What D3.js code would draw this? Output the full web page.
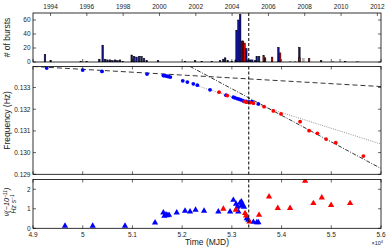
<!DOCTYPE html>
<html><head><meta charset="utf-8">
<script src="https://cdn.jsdelivr.net/npm/d3@7"></script>
<style>body{margin:0;background:#fff}svg{display:block;font-family:"Liberation Sans",Arial,sans-serif}</style>
</head><body><svg id="c" width="390" height="251"></svg>
<script>
// ---------------- DATA ----------------
const mjdDomain = [49000, 56000];
const mjdTicks = [49000, 50000, 51000, 52000, 53000, 54000, 55000, 56000];
const mjdTickLabels = ["4.9", "5", "5.1", "5.2", "5.3", "5.4", "5.5", "5.6"];
const yearTicks = [1994, 1996, 1998, 2000, 2002, 2004, 2006, 2008, 2010, 2012];
const burstTicks = [0, 20, 40, 60];
const freqTicks = [0.129, 0.130, 0.131, 0.132, 0.133];
const freqTickLabels = ["0.129", "0.130", "0.131", "0.132", "0.133"];
const nudotTicks = [0, 1, 2];
const glitchMJD = 53340;

// histogram: [MJD, number of bursts]
const burstsNavy = [[49241,11],[49356,2],[49960,1],[50080,1],[50334,4],[50402,24],[50449,4],[50499,3],[50549,3],[50600,2],[50650,3],[50700,2],[50750,3],[50805,1],[50986,10],[51032,8],[51082,7],[51133,8],[51183,8],[51233,5],[51288,2],[51515,2],[52058,1],[52260,2],[52394,1],[52596,1],[52763,2],[52829,4],[52865,6],[52918,2],[52998,1],[53078,3],[53095,45],[53133,60],[53167,68],[53205,30],[53290,19],[53330,3],[53370,3],[53410,3],[53470,2],[53501,8],[53547,8],[53668,6],[53936,21],[54358,21],[54795,2],[55278,1]];
const burstsRed = [[53225,30],[53255,27],[53640,9],[53809,7],[53970,13],[54358,6],[54553,5]];
const burstsGray = [[54171,1],[54272,1],[54439,5],[55036,1],[55177,4],[55513,1],[55539,1]];

// spin frequency measurements: [MJD, Hz]
const freqBlue = [[49276,0.133898],[50000,0.133806],[50388,0.133741],[51294,0.133620],[51622,0.133556],[51656,0.133542],[51690,0.133528],[51722,0.133509],[51763,0.133481],[52012,0.133310],[52105,0.133250],[52225,0.133171],[52306,0.133111],[52561,0.132894],[52883,0.132648],[53030,0.132556],[53064,0.132523],[53105,0.132491],[53145,0.132463],[53185,0.132431],[53231,0.132384],[53286,0.132361],[53346,0.132338],[53406,0.132352],[53533,0.132245]];
const freqRed = [[52742,0.132787],[52909,0.132630],[53252,0.132352],[53296,0.132324],[53366,0.132306],[53433,0.132278],[53648,0.132120],[53835,0.131921],[53990,0.131782],[54372,0.131426],[54553,0.131009],[54720,0.130889],[54895,0.130625],[55091,0.130454],[55646,0.129838]];

// fitted spin-down trends: [[MJD, Hz],[MJD, Hz]]
const trendEarly = [[49000,0.133972],[56000,0.133046]];
const trendMid = [[52300,0.133084],[56000,0.130394]];
const trendLate = [[52159,0.133972],[56000,0.129269]];

// spin-down rate: [MJD, -nudot in 1e-11 Hz/s]
const nudotBlue = [[49644,0.12],[50201,0.12],[50851,0.12],[51455,0.29],[51622,0.80],[51642,0.63],[51676,0.70],[51702,0.66],[51736,0.68],[51891,0.80],[52058,0.89],[52159,0.85],[52270,0.94],[52441,0.89],[52728,0.85],[52964,0.85],[53030,1.45],[53085,1.25],[53111,1.10],[53131,0.85],[53165,1.30],[53191,1.37],[53219,1.20],[53245,1.10],[53185,1.15],[53300,0.51],[53332,0.43],[53433,0.32],[53501,0.30],[53533,0.30]];
const nudotRed = [[52829,0.99],[53079,0.94],[53266,0.77],[53286,0.65],[53352,0.34],[53547,0.68],[53748,1.62],[53924,1.03],[54171,1.03],[54473,2.43],[54640,1.28],[54809,1.57],[54996,1.19],[55378,1.28]];

// ---------------- LAYOUT ----------------
const X0 = 33, X1 = 381;
const P1 = {top: 13, bot: 62}, P2 = {top: 66.5, bot: 174.3}, P3 = {top: 179.5, bot: 228.3};
const svg = d3.select("#c");
const x = d3.scaleLinear().domain(mjdDomain).range([X0, X1]);
const yB = d3.scaleLinear().domain([0, 70]).range([P1.bot, P1.top]);
const yF = d3.scaleLinear().domain([0.129, 0.13397]).range([P2.bot, P2.top]);
const yN = d3.scaleLinear().domain([0, 2.5]).range([P3.bot, P3.top]);
const yearToMJD = yr => 51544 + Math.round((Date.UTC(yr,0,1) - Date.UTC(2000,0,1)) / 86400000);
const TK = 3, FS = 6.5, TXT = "#222";

function clip(P, clipId) {
  svg.append("clipPath").attr("id", clipId).append("rect")
    .attr("x", X0).attr("y", P.top).attr("width", X1 - X0).attr("height", P.bot - P.top);
}
function decorate(P, yScale, yTicks, yLabels, xBottomLabels, xTopTicks) {
  const g = svg.append("g");
  g.append("rect").attr("x", X0).attr("y", P.top).attr("width", X1 - X0).attr("height", P.bot - P.top)
    .attr("fill", "none").attr("stroke", "#000").attr("stroke-width", 0.8);
  mjdTicks.forEach(t => {
    const xx = x(t);
    g.append("line").attr("x1", xx).attr("x2", xx).attr("y1", P.bot).attr("y2", P.bot - TK).attr("stroke", "#000").attr("stroke-width", 0.6);
    if (xTopTicks) g.append("line").attr("x1", xx).attr("x2", xx).attr("y1", P.top).attr("y2", P.top + TK).attr("stroke", "#000").attr("stroke-width", 0.6);
  });
  yTicks.forEach((t, i) => {
    const yy = yScale(t);
    g.append("line").attr("x1", X0).attr("x2", X0 + TK).attr("y1", yy).attr("y2", yy).attr("stroke", "#000").attr("stroke-width", 0.6);
    g.append("line").attr("x1", X1).attr("x2", X1 - TK).attr("y1", yy).attr("y2", yy).attr("stroke", "#000").attr("stroke-width", 0.6);
    g.append("text").attr("x", X0 - 2.5).attr("y", yy).attr("dy", "0.35em").attr("text-anchor", "end")
      .attr("font-size", FS).attr("fill", TXT).text(yLabels[i]);
  });
  if (xBottomLabels) mjdTicks.forEach((t, i) => {
    g.append("text").attr("x", x(t)).attr("y", P.bot + 8.5).attr("text-anchor", "middle")
      .attr("font-size", FS).attr("fill", TXT).text(mjdTickLabels[i]);
  });
}

// ---------------- TOP PANEL: histogram ----------------
clip(P1, "cp1");
const gH = svg.append("g").attr("clip-path", "url(#cp1)");
const halfW = 16;
function bars(data, fill, stroke) {
  gH.selectAll(null).data(data).enter().append("rect")
    .attr("x", d => x(d[0] - halfW)).attr("width", d => x(d[0] + halfW) - x(d[0] - halfW))
    .attr("y", d => yB(d[1])).attr("height", d => yB(0) - yB(d[1]))
    .attr("fill", fill).attr("stroke", stroke).attr("stroke-width", 0.5);
}
bars(burstsGray, "#b8b8b8", "#999");
bars(burstsNavy, "#10108a", "#000");
bars(burstsRed, "#d40000", "#000");
decorate(P1, yB, burstTicks, burstTicks.map(String), false, false);
yearTicks.forEach(yr => {
  const xx = x(yearToMJD(yr));
  svg.append("line").attr("x1", xx).attr("x2", xx).attr("y1", P1.top).attr("y2", P1.top + TK).attr("stroke", "#000").attr("stroke-width", 0.6);
  svg.append("text").attr("x", xx).attr("y", P1.top - 4).attr("text-anchor", "middle").attr("font-size", FS).attr("fill", TXT).text(yr);
});

// ---------------- MIDDLE PANEL: frequency ----------------
clip(P2, "cp2");
const gF = svg.append("g").attr("clip-path", "url(#cp2)");
const lineF = d3.line().x(d => x(d[0])).y(d => yF(d[1]));
gF.append("path").attr("d", lineF(trendEarly)).attr("fill", "none").attr("stroke", "#000").attr("stroke-width", 0.8).attr("stroke-dasharray", "5,3");
gF.append("path").attr("d", lineF(trendMid)).attr("fill", "none").attr("stroke", "#777").attr("stroke-width", 0.8).attr("stroke-dasharray", "1,1.3");
gF.append("path").attr("d", lineF(trendLate)).attr("fill", "none").attr("stroke", "#000").attr("stroke-width", 0.8).attr("stroke-dasharray", "4,1.5,1,1.5");
gF.selectAll(null).data(freqBlue).enter().append("circle")
  .attr("cx", d => x(d[0])).attr("cy", d => yF(d[1])).attr("r", 1.9).attr("fill", "#0000ff");
gF.selectAll(null).data(freqRed).enter().append("circle")
  .attr("cx", d => x(d[0])).attr("cy", d => yF(d[1])).attr("r", 1.9).attr("fill", "#ff0000");
decorate(P2, yF, freqTicks, freqTickLabels, false, true);

// ---------------- BOTTOM PANEL: spin-down ----------------
clip(P3, "cp3");
const gN = svg.append("g").attr("clip-path", "url(#cp3)");
const tri = d3.symbol().type(d3.symbolTriangle).size(17);
gN.selectAll(null).data(nudotBlue).enter().append("path")
  .attr("d", tri).attr("transform", d => `translate(${x(d[0])},${yN(d[1])})`).attr("fill", "#0000ff");
gN.selectAll(null).data(nudotRed).enter().append("path")
  .attr("d", tri).attr("transform", d => `translate(${x(d[0])},${yN(d[1])})`).attr("fill", "#ff0000");
decorate(P3, yN, nudotTicks, nudotTicks.map(String), true, true);

// ---------------- glitch line ----------------
[P1, P2, P3].forEach(P => {
  svg.append("line").attr("x1", x(glitchMJD)).attr("x2", x(glitchMJD)).attr("y1", P.top).attr("y2", P.bot)
    .attr("stroke", "#000").attr("stroke-width", 1).attr("stroke-dasharray", "3,2");
});

// ---------------- labels ----------------
svg.append("text").attr("transform", `translate(10,${(P1.top + P1.bot) / 2}) rotate(-90)`)
  .attr("text-anchor", "middle").attr("font-size", 8.5).attr("fill", TXT).text("# of bursts");
svg.append("text").attr("transform", `translate(10,${(P2.top + P2.bot) / 2}) rotate(-90)`)
  .attr("text-anchor", "middle").attr("font-size", 8.5).attr("fill", TXT).text("Frequency (Hz)");
const l1 = svg.append("text").attr("transform", `translate(9,${(P3.top + P3.bot) / 2 - 2}) rotate(-90)`)
  .attr("text-anchor", "middle").attr("font-size", 7.2).attr("font-style", "italic").attr("fill", TXT);
l1.append("tspan").text("ν̇(−10");
l1.append("tspan").attr("dy", -2.5).attr("font-size", 5).text("−11");
l1.append("tspan").attr("dy", 2.5).text(")");
const l2 = svg.append("text").attr("transform", `translate(16,${(P3.top + P3.bot) / 2}) rotate(-90)`)
  .attr("text-anchor", "middle").attr("font-size", 6.8).attr("font-style", "italic").attr("fill", TXT);
l2.append("tspan").text("Hz s");
l2.append("tspan").attr("dy", -2.5).attr("font-size", 4.8).text("−1");
svg.append("text").attr("x", (X0 + X1) / 2).attr("y", 245).attr("text-anchor", "middle")
  .attr("font-size", 8.5).attr("fill", TXT).text("Time (MJD)");
const e = svg.append("text").attr("x", X1 + 2).attr("y", 245).attr("text-anchor", "end").attr("font-size", 5.5).attr("fill", TXT);
e.append("tspan").text("×10");
e.append("tspan").attr("dy", -2).attr("font-size", 4).text("4");
</script></body></html>
